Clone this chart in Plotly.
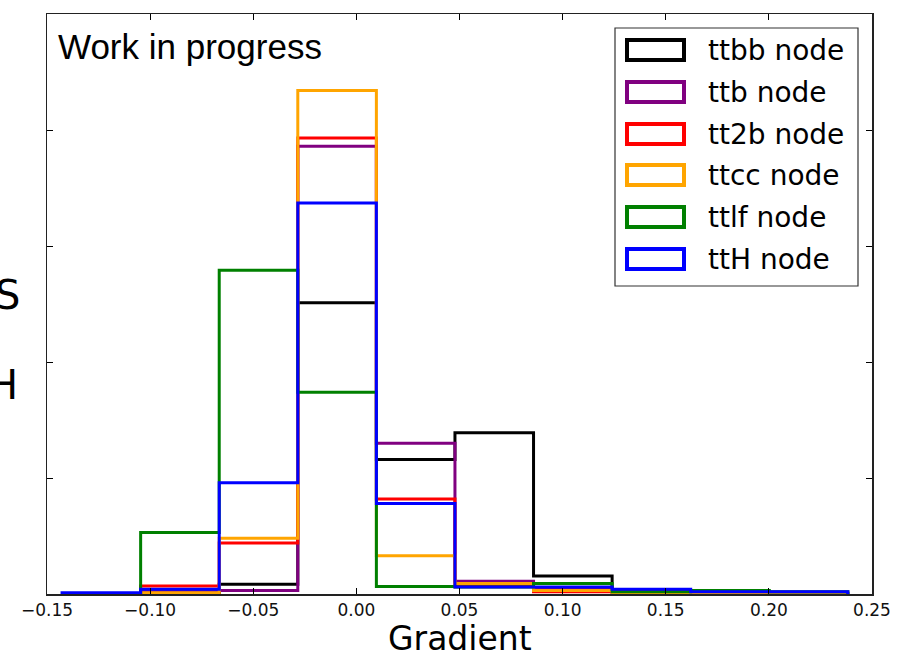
import plotly.graph_objects as go

# ---- data ----
bin_edges = [-0.1427, -0.1046, -0.0665, -0.0284, 0.0097, 0.0478, 0.0859, 0.1240, 0.1621, 0.2002, 0.2383]
series_names = ["ttbb node", "ttb node", "tt2b node", "ttcc node", "ttlf node", "ttH node"]
series_colors = ["black", "purple", "red", "orange", "green", "blue"]
ttbb = [0.0, 0.01, 0.085, 2.51, 1.16, 1.39, 0.155, 0.03, 0.01, 0.005]
ttb = [0.0, 0.03, 0.03, 3.86, 1.30, 0.11, 0.04, 0.01, 0.005, 0.0]
tt2b = [0.0, 0.07, 0.44, 3.93, 0.82, 0.08, 0.02, 0.02, 0.0, 0.0]
ttcc = [0.0, 0.01, 0.48, 4.34, 0.33, 0.09, 0.03, 0.005, 0.0, 0.0]
ttlf = [0.0, 0.53, 2.79, 1.74, 0.065, 0.06, 0.09, 0.02, 0.03, 0.02]
ttH = [0.01, 0.04, 0.96, 3.37, 0.78, 0.06, 0.06, 0.04, 0.02, 0.02]
series_values = [ttbb, ttb, tt2b, ttcc, ttlf, ttH]
x_ticks = [-0.15, -0.10, -0.05, 0.0, 0.05, 0.10, 0.15, 0.20, 0.25]
y_ticks = [0, 1, 2, 3, 4, 5]
x_title = "Gradient"

W, H = 908, 655
# target plot area in window pixels: x 47..872, y 14..594
L, R, T, B = 47, W - 872, 14, H - 594
pw, ph = W - L - R, H - T - B

def px2paper(px, py):
    return (px - L) / pw, (H - B - py) / ph

fig = go.Figure()
for name, color, vals in zip(series_names, series_colors, series_values):
    xs = [bin_edges[0]] + bin_edges[:-1] + [bin_edges[-1]]
    ys = [0] + list(vals) + [0]
    fig.add_trace(go.Scatter(x=xs, y=ys, mode="lines", line=dict(color=color, width=3, shape="hv"),
                             name=name, showlegend=False, hoverinfo="skip"))

shapes = []
annotations = []
# manual legend
lx0, ly0 = px2paper(615, 28)
lx1, ly1 = px2paper(858, 286)
shapes.append(dict(type="rect", xref="paper", yref="paper", x0=lx0, y0=ly1, x1=lx1, y1=ly0,
                   line=dict(color="#333333", width=1.2), fillcolor="white", layer="above"))
row_y = [50, 92, 134, 175, 217, 259]
for name, color, ry in zip(series_names, series_colors, row_y):
    a0, b0 = px2paper(627, ry - 10)
    a1, b1 = px2paper(684, ry + 10)
    shapes.append(dict(type="rect", xref="paper", yref="paper", x0=a0, y0=b1, x1=a1, y1=b0,
                       line=dict(color=color, width=4), fillcolor="rgba(0,0,0,0)", layer="above"))
    tx, ty = px2paper(706, ry)
    annotations.append(dict(text=name, xref="paper", yref="paper", x=tx, y=ty, xanchor="left",
                            yanchor="middle", showarrow=False,
                            font=dict(family="DejaVu Sans", size=28, color="black")))

wx, wy = px2paper(56, 46)
annotations.append(dict(text="Work in progress", xref="paper", yref="paper", x=wx, y=wy,
                        xanchor="left", yanchor="middle", showarrow=False,
                        font=dict(family="Liberation Sans", size=35, color="black")))
for txt, px, py in [("S", 22, 295), ("H", 20, 385)]:
    sx, sy = px2paper(px, py)
    annotations.append(dict(text=txt, xref="paper", yref="paper", x=sx, y=sy, xanchor="right",
                            yanchor="middle", showarrow=False,
                            font=dict(family="DejaVu Sans", size=40, color="black")))
gx, gy = px2paper(460, 638)
annotations.append(dict(text=x_title, xref="paper", yref="paper", x=gx, y=gy, xanchor="center",
                        yanchor="middle", showarrow=False,
                        font=dict(family="DejaVu Sans", size=33, color="black")))

fig.update_layout(
    width=W, height=H,
    margin=dict(l=L, r=R, t=T, b=B, autoexpand=False),
    paper_bgcolor="white", plot_bgcolor="white",
    shapes=shapes, annotations=annotations,
    showlegend=False,
)
fig.update_xaxes(range=[-0.15, 0.25], tickvals=x_ticks, tickformat=".2f",
                 ticks="inside", ticklen=6, tickcolor="black", tickwidth=1,
                 showline=True, linecolor="#222222", linewidth=1.5, mirror="ticks",
                 showgrid=False, zeroline=False, automargin=False,
                 tickfont=dict(family="DejaVu Sans", size=17, color="#111111"))
fig.update_yaxes(range=[0, 5], tickvals=y_ticks, showticklabels=False,
                 ticks="inside", ticklen=6, tickcolor="black", tickwidth=1,
                 showline=True, linecolor="#222222", linewidth=1.5, mirror="ticks",
                 showgrid=False, zeroline=False, automargin=False)

fig.write_html("out.html",
               config={"displayModeBar": False, "staticPlot": True},
               post_script="document.body.style.margin='0';document.body.style.overflow='hidden';")
